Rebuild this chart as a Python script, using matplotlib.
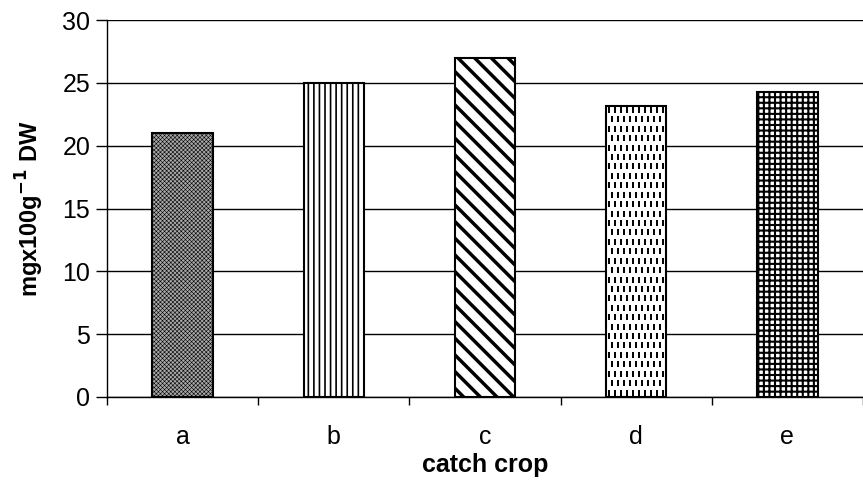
import numpy as np
import matplotlib
matplotlib.use('Agg')
import matplotlib.pyplot as plt

plt.rcParams['font.family'] = ['Liberation Sans', 'DejaVu Sans']

crops = ['a', 'b', 'c', 'd', 'e']
values = [21.0, 25.0, 27.0, 23.2, 24.3]
hatches = ['xxxxxxxx', '|||', '\\\\', '', '+++']
faces = ['#a8a8a8', 'white', 'white', 'white', 'white']

fig = plt.figure(figsize=(8.63, 4.8), dpi=100)
ax = fig.add_axes([0.124, 0.173, 0.876, 0.785])

x = np.arange(len(crops))
bars = []
for i in range(len(crops)):
    plt.rcParams['hatch.linewidth'] = {0: 0.4, 1: 1.2, 2: 2.5, 3: 1.0, 4: 1.5}[i]
    b = ax.bar(x[i], values[i], width=0.4, color=faces[i], edgecolor='black',
               linewidth=1.5, hatch=hatches[i], zorder=3)
    bars.append(b[0])

# bar d: short staggered vertical dashes clipped to the bar
pd_ = bars[3]
x0, w, h = pd_.get_x(), pd_.get_width(), pd_.get_height()
cols = np.arange(x0 + w / 20, x0 + w, w / 10)
rows = np.arange(0.35, h, 0.75)
for j, yy in enumerate(rows):
    off = (w / 20) if j % 2 else 0
    pts = ax.scatter(cols + off, np.full(len(cols), yy), marker='|', s=22,
                     color='black', linewidths=1.4, zorder=4)
    pts.set_clip_path(pd_)

ax.set_ylim(0, 30)
ax.set_xlim(-0.5, 4.41)
ax.set_yticks(range(0, 31, 5))
ax.set_xticks(x)
ax.set_xticklabels(crops)
ax.set_xticks(np.arange(-0.5, 4.6, 1), minor=True)
ax.tick_params(axis='x', which='major', length=0, labelsize=18, pad=20)
ax.tick_params(axis='x', which='minor', length=6, direction='out', width=1)
ax.tick_params(axis='y', length=8, width=1, labelsize=18, pad=4)
ax.yaxis.grid(True, color='black', linewidth=1, zorder=0)
ax.set_axisbelow(True)
for s in ['top', 'right']:
    ax.spines[s].set_visible(False)
for s in ['left', 'bottom']:
    ax.spines[s].set_linewidth(1)

ax.set_xlabel('catch crop', fontsize=18, fontweight='bold', labelpad=3)
ax.set_ylabel('mgx100g$^{\\mathbf{-1}}$ DW', fontsize=17, fontweight='bold', labelpad=12)

fig.savefig('out.png', dpi=100)
